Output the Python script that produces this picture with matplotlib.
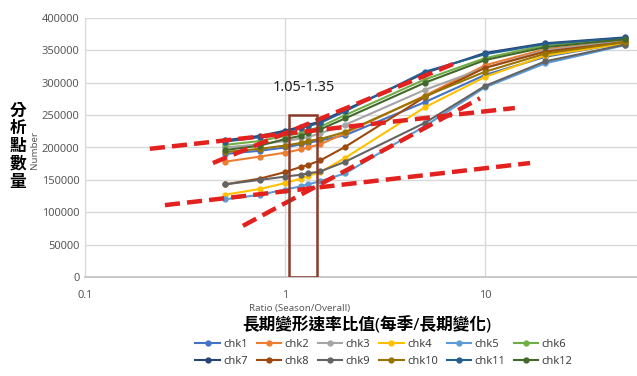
import matplotlib
matplotlib.use("Agg")
import matplotlib.pyplot as plt
from matplotlib.patches import Rectangle

# ratio values (season/overall) for every check point
ratio = [0.5, 0.75, 1.0, 1.2, 1.3, 1.5, 2, 5, 10, 20, 50]

names = ["chk1", "chk2", "chk3", "chk4", "chk5", "chk6",
         "chk7", "chk8", "chk9", "chk10", "chk11", "chk12"]

chk1 = [190000, 195000, 200000, 205000, 207000, 211000, 219000, 270000, 312000, 340000, 362000]
chk2 = [178000, 186000, 192000, 197000, 200000, 205000, 222000, 280000, 327000, 352000, 364000]
chk3 = [200000, 205000, 210000, 214000, 216000, 222000, 235000, 289000, 323000, 350000, 365000]
chk4 = [127000, 136000, 145000, 152000, 156000, 162000, 184000, 262000, 309000, 342000, 361000]
chk5 = [120000, 127000, 135000, 140000, 143000, 148000, 160000, 233000, 293000, 330000, 358000]
chk6 = [204000, 210000, 218000, 222000, 226000, 232000, 250000, 305000, 338000, 358000, 368000]
chk7 = [211000, 218000, 226000, 232000, 235000, 240000, 258000, 315000, 346000, 361000, 370000]
chk8 = [143000, 152000, 162000, 170000, 173000, 180000, 201000, 278000, 323000, 348000, 363000]
chk9 = [143000, 150000, 155000, 158000, 160000, 163000, 178000, 238000, 295000, 333000, 359000]
chk10 = [193000, 198000, 203000, 207000, 210000, 213000, 224000, 279000, 317000, 345000, 363000]
chk11 = [209000, 216000, 224000, 230000, 233000, 238000, 256000, 317000, 344000, 360000, 369000]
chk12 = [196000, 203000, 213000, 218000, 222000, 228000, 245000, 300000, 335000, 355000, 367000]

series = [chk1, chk2, chk3, chk4, chk5, chk6, chk7, chk8, chk9, chk10, chk11, chk12]

colors = ["#4472C4", "#ED7D31", "#A5A5A5", "#FFC000", "#5B9BD5", "#70AD47",
          "#264478", "#9E480E", "#636363", "#997300", "#255E91", "#43682B"]

# hand drawn red trend lines: (x0, y0, x1, y1)
trend_lines = [
    (0.211, 198000, 14.1, 261000),
    (0.436, 176000, 7.33, 332000),
    (0.251, 111000, 16.8, 176000),
    (0.616, 79000, 9.44, 276000),
]

box_range = (1.05, 1.44)
box_top = 250000
box_label = "1.05-1.35"

plt.rcParams['font.family'] = ['Noto Sans', 'Noto Sans CJK TC', 'DejaVu Sans']

fig = plt.figure(figsize=(6.37, 3.76), dpi=100)
# axes extends past the right edge like the cropped original
ax = fig.add_axes([85/637, 99/376, 600/637, 259/376])

for name, vals, c in zip(names, series, colors):
    ax.plot(ratio, vals, color=c, lw=1.5, marker='o', ms=3.5, label=name)

for x0, y0, x1, y1 in trend_lines:
    ax.plot([x0, x1], [y0, y1], color='#E3211E', lw=3.2, dashes=(3.4, 1.6), zorder=5)

ax.add_patch(Rectangle((box_range[0], 0), box_range[1] - box_range[0], box_top,
                       fill=False, edgecolor='#8B3A2A', lw=1.8, zorder=6))
ax.text(1.24, 292000, box_label, ha='center', va='center', fontsize=10.5, color='#222222')

ax.set_xscale('log')
ax.set_xlim(0.1, 100)
ax.set_ylim(0, 400000)
ax.set_yticks(range(0, 400001, 50000))
ax.set_xticks([0.1, 1, 10])
ax.set_xticklabels(["0.1", "1", "10"])
ax.minorticks_off()
ax.grid(True, color='#D9D9D9', lw=1)
ax.set_axisbelow(True)
for s in ['top', 'right']:
    ax.spines[s].set_visible(False)
ax.spines['left'].set_color('#D9D9D9')
ax.spines['bottom'].set_color('#BFBFBF')
ax.spines['bottom'].set_linewidth(1.2)
ax.tick_params(length=0, labelsize=8, labelcolor='#595959', pad=4)
ax.tick_params(axis='x', pad=9)

fig.text(18/637, 1 - 147/376, "分\n析\n點\n數\n量", ha='center', va='center',
         fontsize=12, fontweight='bold', linespacing=1.15)
fig.text(35/637, 1 - 150/376, "Number", rotation=90, ha='center', va='center',
         fontsize=7, color='#595959')
fig.text(300/637, 1 - 308/376, "Ratio (Season/Overall)", ha='center', va='center',
         fontsize=7, color='#595959')
fig.text(367/637, 1 - 326/376, "長期變形速率比值(每季/長期變化)", ha='center', va='center',
         fontsize=12, fontweight='bold')

# legend fills column by column, so interleave to get chk1..chk6 on the first row
handles, labels = ax.get_legend_handles_labels()
order = [i + 6 * r for i in range(6) for r in range(2)]
fig.legend([handles[i] for i in order], [labels[i] for i in order], ncol=6, loc='center',
           bbox_to_anchor=(384/637, 1 - 353/376),
           frameon=False, fontsize=8, handlelength=2.2, handletextpad=0.3,
           columnspacing=0.8, labelspacing=0.5, labelcolor='#404040')

fig.savefig("out.png", dpi=100)
